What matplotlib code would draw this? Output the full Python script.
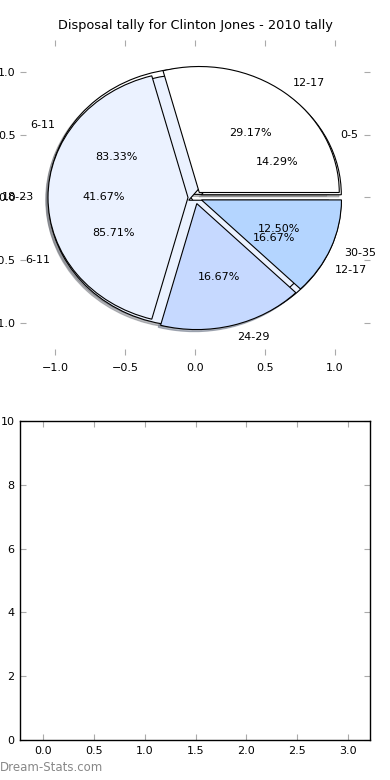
import matplotlib
matplotlib.use('Agg')
import matplotlib.pyplot as plt
import numpy as np

# three overlapping pies on the same axes
pie1_labels = ['12-17', '18-23', '24-29', '30-35']
pie1_values = [29.17, 41.67, 16.67, 12.50]
pie2_labels = ['0-5', '6-11']
pie2_values = [14.29, 85.71]
pie3_labels = ['6-11', '12-17']
pie3_values = [83.33, 16.67]

pie_colors = ['white', '#ebf2ff', '#c6d9ff', '#b4d5ff']

pie_ticks = [-1.0, -0.5, 0.0, 0.5, 1.0]
bar_xticks = [0.0, 0.5, 1.0, 1.5, 2.0, 2.5, 3.0]
bar_yticks = [0, 2, 4, 6, 8, 10]

plt.rcParams['font.family'] = 'DejaVu Sans'
plt.rcParams['font.size'] = 8

fig = plt.figure(figsize=(3.9, 7.8), dpi=100)
ax1 = fig.add_axes([0.0513, 0.5449, 0.8974, 0.4038])
ax2 = fig.add_axes([0.0513, 0.0513, 0.8974, 0.409])

for vals, labs in [(pie3_values, pie3_labels), (pie2_values, pie2_labels), (pie1_values, pie1_labels)]:
    ax1.pie(vals, labels=labs, autopct='%1.2f%%', explode=[0.05] * len(vals),
            colors=pie_colors[:len(vals)],
            shadow={'ox': -0.012, 'oy': -0.012, 'shade': 0.5},
            wedgeprops={'edgecolor': 'black', 'linewidth': 0.8},
            textprops={'fontsize': 8})

ax1.set_aspect('auto')
ax1.set_xlim(-1.25, 1.25)
ax1.set_ylim(-1.25, 1.25)
ax1.set_xticks(pie_ticks)
ax1.set_yticks(pie_ticks)
ax1.set_frame_on(False)
ax1.tick_params(direction='in', length=4, color='#aaaaaa', top=True, right=True,
                labelsize=8)
ax1.tick_params(axis='y', pad=3)
ax1.tick_params(axis='x', pad=6)
ax1.set_title('Disposal tally for Clinton Jones - 2010 tally', fontsize=9.3, pad=8)

ax2.set_xlim(-0.225, 3.215)
ax2.set_ylim(0, 10)
ax2.set_xticks(bar_xticks)
ax2.set_yticks(bar_yticks)
ax2.tick_params(direction='in', length=4, color='#aaaaaa', top=True, right=True,
                labelsize=8, pad=4)
for s in ax2.spines.values():
    s.set_linewidth(1)

fig.text(0.0, 0.012, 'Dream-Stats.com', color='#888888', fontsize=8.5)

fig.savefig('out.png', dpi=100)
